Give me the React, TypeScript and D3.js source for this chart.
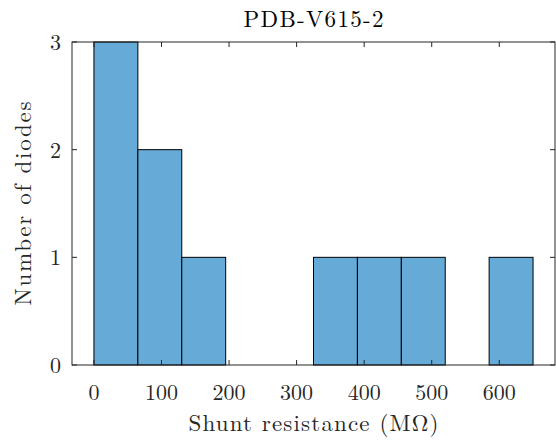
import React, { useEffect, useRef } from "react";
import * as d3 from "d3";

// histogram bins (MΩ)
const binEdges = [0, 65, 130, 195, 260, 325, 390, 455, 520, 585, 650];
const counts = [3, 2, 1, 0, 0, 1, 1, 1, 0, 1];
const xTicks = [0, 100, 200, 300, 400, 500, 600];
const yTicks = [0, 1, 2, 3];

const W = 556;
const H = 441;
const FONT = "'Latin Modern Roman', 'CMU Serif', 'Liberation Serif', serif";

export default function App() {
  const ref = useRef<SVGSVGElement>(null);

  useEffect(() => {
    const svg = d3.select(ref.current);
    svg.selectAll("*").remove();

    const left = 72, right = 555, top = 42, bottom = 365;

    const x = d3.scaleLinear().domain([-32.5, 682.5]).range([left, right]);
    const y = d3.scaleLinear().domain([0, 3]).range([bottom, top]);

    const bins = counts.map((c, i) => ({ x0: binEdges[i], x1: binEdges[i + 1], c }));

    // bars
    svg.append("g")
      .selectAll("rect")
      .data(bins)
      .enter().append("rect")
      .attr("x", d => x(d.x0))
      .attr("width", d => x(d.x1) - x(d.x0))
      .attr("y", d => y(d.c))
      .attr("height", d => y(0) - y(d.c))
      .attr("fill", "#66aad7")
      .attr("stroke", "#000")
      .attr("stroke-width", 1);

    const axisColor = "#262626";
    const tickLen = 5;

    // ticks pointing inward on all four sides
    const g = svg.append("g").attr("stroke", axisColor).attr("stroke-width", 1);
    xTicks.forEach(t => {
      g.append("line").attr("x1", x(t)).attr("x2", x(t)).attr("y1", bottom).attr("y2", bottom - tickLen);
      g.append("line").attr("x1", x(t)).attr("x2", x(t)).attr("y1", top).attr("y2", top + tickLen);
    });
    yTicks.forEach(t => {
      g.append("line").attr("x1", left).attr("x2", left + tickLen).attr("y1", y(t)).attr("y2", y(t));
      g.append("line").attr("x1", right).attr("x2", right - tickLen).attr("y1", y(t)).attr("y2", y(t));
    });

    // axes box
    svg.append("rect")
      .attr("x", left)
      .attr("y", top)
      .attr("width", right - left)
      .attr("height", bottom - top)
      .attr("fill", "none")
      .attr("stroke", axisColor)
      .attr("stroke-width", 1);

    // tick labels
    svg.append("g")
      .selectAll("text")
      .data(xTicks)
      .enter().append("text")
      .attr("x", d => x(d))
      .attr("y", 400)
      .attr("text-anchor", "middle")
      .style("font-family", FONT)
      .style("font-size", "22px")
      .attr("fill", "#262626")
      .text(d => d);

    svg.append("g")
      .selectAll("text")
      .data(yTicks)
      .enter().append("text")
      .attr("x", 61)
      .attr("y", d => y(d) + 8)
      .attr("text-anchor", "end")
      .style("font-family", FONT)
      .style("font-size", "22px")
      .attr("fill", "#262626")
      .text(d => d);

    // x axis title
    svg.append("text")
      .attr("x", (left + right) / 2)
      .attr("y", 431)
      .attr("text-anchor", "middle")
      .attr("textLength", 250)
      .attr("lengthAdjust", "spacing")
      .style("font-family", FONT)
      .style("font-size", "23px")
      .attr("fill", "#262626")
      .text("Shunt resistance (MΩ)");

    // y axis title
    svg.append("text")
      .attr("transform", `translate(31,${(top + bottom) / 2}) rotate(-90)`)
      .attr("text-anchor", "middle")
      .attr("textLength", 204)
      .attr("lengthAdjust", "spacing")
      .style("font-family", FONT)
      .style("font-size", "23px")
      .attr("fill", "#262626")
      .text("Number of diodes");

    // title
    svg.append("text")
      .attr("x", (left + right) / 2)
      .attr("y", 27)
      .attr("text-anchor", "middle")
      .attr("textLength", 140)
      .attr("lengthAdjust", "spacing")
      .style("font-family", FONT)
      .style("font-size", "23px")
      .attr("fill", "#000")
      .text("PDB-V615-2");
  }, []);

  return (
    <svg
      ref={ref}
      width={W}
      height={H}
      style={{ position: "absolute", left: 0, top: 0, background: "#fff" }}
    />
  );
}
